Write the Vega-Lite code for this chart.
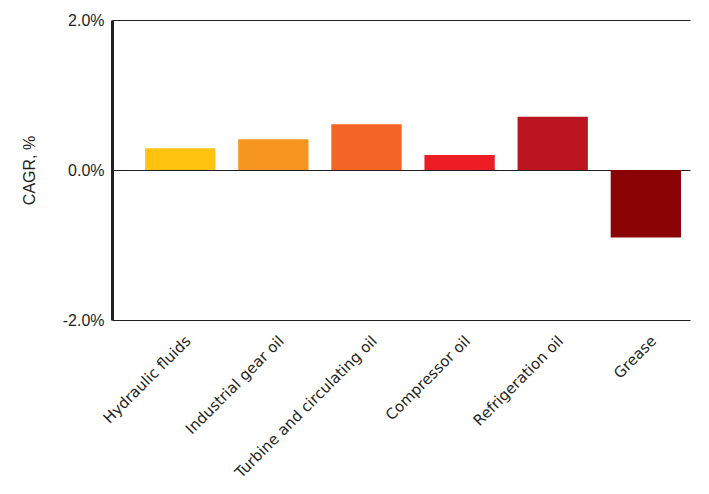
{
  "$schema": "https://vega.github.io/schema/vega-lite/v6.json",
  "autosize": "none",
  "width": 578,
  "height": 300,
  "padding": {"left": 112, "top": 20, "right": 19, "bottom": 174},
  "background": "white",
  "config": {"view": {"stroke": null}},
  "data": {"values": [
    {"segment": "Hydraulic fluids", "cagr": 0.29},
    {"segment": "Industrial gear oil", "cagr": 0.41},
    {"segment": "Turbine and circulating oil", "cagr": 0.61},
    {"segment": "Compressor oil", "cagr": 0.20},
    {"segment": "Refrigeration oil", "cagr": 0.71},
    {"segment": "Grease", "cagr": -0.90}
  ]},
  "mark": {"type": "bar"},
  "encoding": {
    "x": {
      "field": "segment", "type": "nominal", "sort": null,
      "scale": {"paddingInner": 0.245, "paddingOuter": 0.226, "align": 0.786},
      "axis": {
        "title": null, "domain": false, "ticks": false, "labelAngle": -45,
        "labelFont": "DejaVu Sans", "labelFontSize": 15, "labelColor": "#231f20",
        "labelPadding": 13, "labelOffset": 3, "labelLimit": 400
      }
    },
    "y": {
      "field": "cagr", "type": "quantitative",
      "scale": {"domain": [-2, 2], "nice": false, "zero": true},
      "axis": {
        "title": "CAGR, %", "values": [-2, 0, 2],
        "labelExpr": "replace(format(datum.value, '.1f'), '\u2212', '-') + '%'",
        "grid": true, "gridColor": "#231f20", "gridWidth": 1, "gridOpacity": 1,
        "domain": true, "domainColor": "#231f20", "domainWidth": 3,
        "ticks": false, "labelPadding": 8,
        "labelFont": "Liberation Sans", "labelFontSize": 16, "labelColor": "#231f20",
        "titleFont": "Liberation Sans", "titleFontSize": 16, "titleFontWeight": "normal",
        "titleColor": "#231f20", "titleX": -83, "titleY": 150, "titleAngle": -90,
        "titleAlign": "center", "titleBaseline": "middle"
      }
    },
    "color": {
      "field": "segment", "type": "nominal", "legend": null,
      "scale": {
        "domain": ["Hydraulic fluids", "Industrial gear oil", "Turbine and circulating oil", "Compressor oil", "Refrigeration oil", "Grease"],
        "range": ["#FEC20F", "#F6951F", "#F26524", "#EC1D25", "#BB1620", "#8A0305"]
      }
    }
  }
}
